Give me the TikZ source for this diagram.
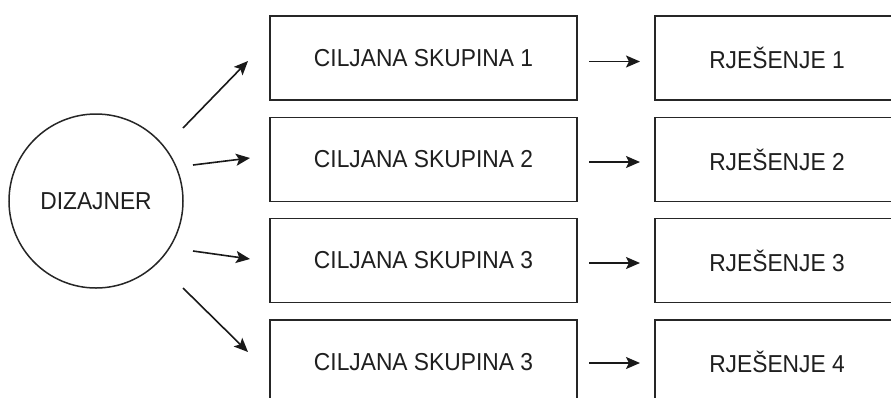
\documentclass[tikz,border=0pt]{standalone}
\usepackage{fontspec}
\setmainfont[FakeStretch=0.93]{Liberation Sans}
\usetikzlibrary{arrows.meta}
\begin{document}
\begin{tikzpicture}[x=1pt,y=-1pt,
  lbl/.style={font=\fontsize{24.5}{29}\selectfont, text=black!88},
  box/.style={lbl, draw=black!85, line width=1.7pt, minimum width=307pt, minimum height=84pt, inner sep=0pt},
  rbox/.style={box, minimum width=244pt},
  arr/.style={draw=black!90, line width=1.6pt, -{Stealth[length=14pt,width=12pt,inset=3pt]}}]
\useasboundingbox (0,0) rectangle (891,397);
\clip (0,0) rectangle (891,397);
\fill[white] (0,0) rectangle (891,397);
\node[lbl, circle, draw=black!85, line width=1.5pt, minimum size=174pt, inner sep=0pt] (d) at (96,201) {DIZAJNER};
\node[box] (c1) at (423.5,58) {CILJANA SKUPINA 1};
\node[box] (c2) at (423.5,159.5) {CILJANA SKUPINA 2};
\node[box] (c3) at (423.5,260.5) {CILJANA SKUPINA 3};
\node[box] (c4) at (423.5,362) {CILJANA SKUPINA 3};
\node[rbox] (r1) at (777,58) {RJEŠENJE 1};
\node[rbox] (r2) at (777,159.5) {RJEŠENJE 2};
\node[rbox] (r3) at (777,260.5) {RJEŠENJE 3};
\node[rbox] (r4) at (777,362) {RJEŠENJE 4};
\coordinate (s1) at (183,128); \coordinate (e1) at (248,61);
\coordinate (s2) at (193,165); \coordinate (e2) at (250,158);
\coordinate (s3) at (193,251); \coordinate (e3) at (250,259);
\coordinate (s4) at (183,288); \coordinate (e4) at (248,352);
\draw[arr] (s1) -- (e1);
\draw[arr] (s2) -- (e2);
\draw[arr] (s3) -- (e3);
\draw[arr] (s4) -- (e4);
\foreach \i/\y in {1/61.5,2/162,3/263,4/363}{
  \coordinate (m\i a) at (589,\y);
  \coordinate (m\i b) at (640,\y);
  \draw[arr] (m\i a) -- (m\i b);
}
\end{tikzpicture}
\end{document}
